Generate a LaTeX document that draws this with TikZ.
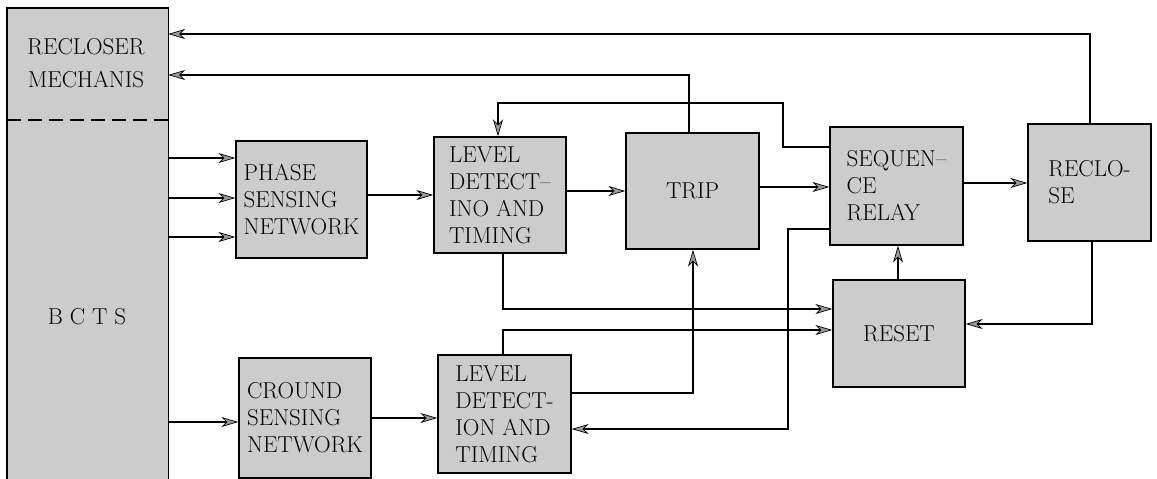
\documentclass[tikz,border=0pt]{standalone}
\usepackage{fontspec}
\setmainfont{Latin Modern Roman}
\usetikzlibrary{arrows.meta}
\begin{document}
\begin{tikzpicture}[x=1pt,y=-1pt,
  blk/.style={draw=black,line width=1.4pt,fill=black!20,align=left,inner sep=2pt,
    font=\fontsize{23}{27}\selectfont},
  arr/.style={line width=1.1pt,-{Stealth[length=17pt,width=10pt,inset=5pt,fill=black!40,line width=0.7pt]}},
  lbl/.style={font=\fontsize{23}{33}\selectfont,align=center}]
\useasboundingbox (0,0) rectangle (1157,479);
% big left box
\node[fill=black!20,minimum width=161pt,minimum height=473pt,inner sep=0pt] (bigbox) at (87.5,244.5) {};
\draw[line width=1.4pt] (bigbox.south west) -- (bigbox.north west) -- (bigbox.north east) -- (bigbox.south east);
\draw[line width=1.1pt,dash pattern=on 14pt off 7pt] (bigbox.west |- 0,120) -- (bigbox.east |- 0,120);
\node[lbl] (mechtxt) at (86,63) {RECLOSER\\MECHANIS};
\node[lbl] (bctstxt) at (87,317) {B C T S};
% blocks
\node[blk,minimum width=131pt,minimum height=117pt] (phase) at (301.5,199.5) {PHASE\\SENSING\\NETWORK};
\node[blk,minimum width=132pt,minimum height=116pt] (lvl1) at (500,195) {LEVEL\\DETECT--\\INO AND\\TIMING};
\node[blk,minimum width=133pt,minimum height=116pt,align=center] (trip) at (692.5,191) {TRIP};
\node[blk,minimum width=133pt,minimum height=118pt] (seq) at (896.5,186) {SEQUEN--\\CE\\RELAY};
\node[blk,minimum width=123pt,minimum height=117pt] (recl) at (1089.5,182.5) {RECLO-\\SE};
\node[blk,minimum width=132pt,minimum height=107pt,align=center] (reset) at (899,333.5) {RESET};
\node[blk,minimum width=133pt,minimum height=118pt] (lvl2) at (504.5,414) {LEVEL\\DETECT-\\ION AND\\TIMING};
\node[blk,minimum width=132pt,minimum height=120pt] (ground) at (305,418) {CROUND\\SENSING\\NETWORK};
% forward arrows
\draw[arr] (bigbox.east |- 0,158) -- (phase.west |- 0,158);
\draw[arr] (bigbox.east |- 0,198) -- (phase.west |- 0,198);
\draw[arr] (bigbox.east |- 0,237) -- (phase.west |- 0,237);
\draw[arr] (phase.east |- 0,195) -- (lvl1.west |- 0,195);
\draw[arr] (lvl1.east |- 0,191) -- (trip.west |- 0,191);
\draw[arr] (trip.east |- 0,187) -- (seq.west |- 0,187);
\draw[arr] (seq.east |- 0,183) -- (recl.west |- 0,183);
\draw[arr] (bigbox.east |- 0,422) -- (ground.west |- 0,422);
\draw[arr] (ground.east |- 0,418) -- (lvl2.west |- 0,418);
% feedback to recloser mechanism
\draw[arr] (recl.north -| 1090,0) -- (1090,34) -- (bigbox.east |- 0,34);
\draw[arr] (trip.north -| 689,0) -- (689,75) -- (bigbox.east |- 0,75);
% sequence relay to level detect 1
\draw[arr] (seq.west |- 0,147) -- (783,147) -- (783,103) -- (498,103) -- (lvl1.north -| 498,0);
% to reset
\draw[arr] (lvl1.south -| 503,0) -- (503,309) -- (reset.west |- 0,309);
\draw[arr] (lvl2.north -| 503,0) -- (503,330) -- (reset.west |- 0,330);
\draw[arr] (reset.north -| 898,0) -- (seq.south -| 898,0);
\draw[arr] (recl.south -| 1092,0) -- (1092,324) -- (reset.east |- 0,324);
% level 2 to trip
\draw[arr] (lvl2.east |- 0,393) -- (693,393) -- (trip.south -| 693,0);
% sequence relay to level 2
\draw[arr] (seq.west |- 0,229) -- (788,229) -- (788,429) -- (lvl2.east |- 0,429);
\end{tikzpicture}
\end{document}
